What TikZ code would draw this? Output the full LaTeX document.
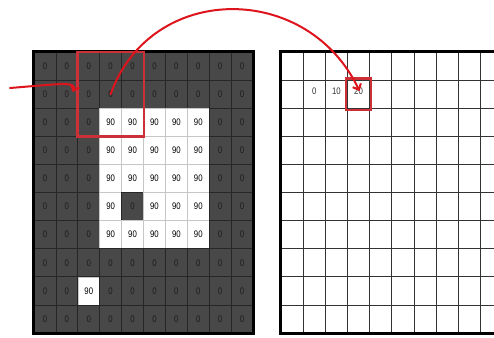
\documentclass[tikz,border=0pt]{standalone}
\usepackage{fontspec}
\setmainfont{Liberation Sans}
\newfontfamily\pixfont[FakeStretch=0.82]{Liberation Sans}
\usetikzlibrary{arrows.meta,fit}
\definecolor{pixdark}{RGB}{72,72,72}
\definecolor{pixline}{RGB}{38,38,38}
\definecolor{pixtext}{RGB}{28,28,28}
\definecolor{markred}{RGB}{222,20,28}
\definecolor{boxred}{RGB}{206,48,56}

\begin{document}
\begin{tikzpicture}[x=1pt,y=-1pt,
        pixel/.style={rectangle,inner sep=0pt,minimum width=21.9pt,minimum height=28.1pt,font=\pixfont\fontsize{9.5}{9.5}\selectfont},
        darkpix/.style={pixel,draw=pixline,line width=0.7pt,fill=pixdark,text=pixtext},
        lightpix/.style={pixel,draw=gray!45,line width=0.5pt,fill=white,text=black},
        outpix/.style={pixel,minimum width=22.15pt,draw=black!80,line width=0.7pt,fill=white},
        redbox/.style={draw=boxred,line width=2.3pt,rectangle,inner sep=0pt},
        pen/.style={draw=markred,line width=2pt,line cap=round,-{Straight Barb[length=5pt,width=9pt,line width=2pt]}}]
        \clip (0,0) rectangle (494,337);
        \fill[white] (0,0) rectangle (494,337);
        \def\imgrows{{0,0,0,0,0,0,0,0,0,0},{0,0,0,0,0,0,0,0,0,0},{0,0,0,90,90,90,90,90,0,0},{0,0,0,90,90,90,90,90,0,0},{0,0,0,90,90,90,90,90,0,0},{0,0,0,90,0,90,90,90,0,0},{0,0,0,90,90,90,90,90,0,0},{0,0,0,0,0,0,0,0,0,0},{0,0,90,0,0,0,0,0,0,0},{0,0,0,0,0,0,0,0,0,0}}
        \foreach \row [count=\r from 0] in \imgrows {
            \foreach \v [count=\c from 0] in \row {
                \ifnum\v=90
                    \node[lightpix] (L-\r-\c) at ({34+21.9*(\c+0.5)},{52+28.1*(\r+0.5)}) {\v};
                \else
                    \node[darkpix] (L-\r-\c) at ({34+21.9*(\c+0.5)},{52+28.1*(\r+0.5)}) {\v};
                \fi
            }
        }
        \draw[line width=2.4pt] (L-0-0.north west) rectangle (L-9-9.south east);
        \foreach \r in {0,...,9} {
            \foreach \c in {0,...,9} {
                \node[outpix] (R-\r-\c) at ({281+22.15*(\c+0.5)},{52+28.1*(\r+0.5)}) {};
            }
        }
        \draw[line width=2.4pt] (R-0-0.north west) rectangle (R-9-9.south east);
        \foreach \v [count=\c] in {0,10,20} {
            \node[font=\pixfont\fontsize{9.5}{9.5}\selectfont,text=black!80] (out-\c) at ([yshift=3pt]R-1-\c.center) {\v};
        }
        \node[redbox,fit=(L-0-2)(L-2-4)] (window) {};
        \node[redbox,fit=(R-1-3),inner sep=1.2pt] (target) {};
        \coordinate (start) at (10,88);
        \draw[pen] (start) .. controls (60,84) and (77,81) .. ([xshift=6pt,yshift=2pt]L-1-1.center);
        \draw[pen] (L-1-3.center) .. controls +(40,-112) and +(-52,-110) .. ([xshift=1pt,yshift=3pt]target.center);
\end{tikzpicture}
\end{document}
